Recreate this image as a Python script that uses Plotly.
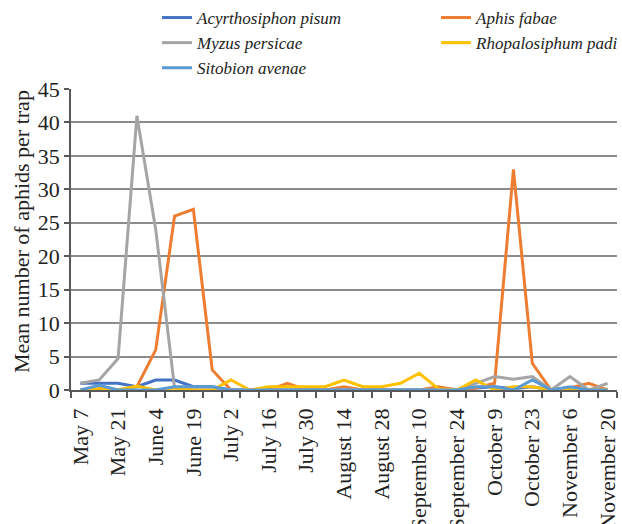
import plotly.graph_objects as go

weeks = ["May 7", "May 14", "May 21", "May 28", "June 4", "June 11", "June 19", "June 26",
         "July 2", "July 9", "July 16", "July 23", "July 30", "August 7", "August 14",
         "August 21", "August 28", "September 3", "September 10", "September 17",
         "September 24", "October 2", "October 9", "October 16", "October 23",
         "October 30", "November 6", "November 13", "November 20"]
tick_labels = weeks[::2]
y_title = "Mean number of aphids per trap"

acyrthosiphon_pisum = [1, 1, 1, 0.5, 1.5, 1.5, 0.5, 0.5, 0, 0, 0, 0, 0, 0, 0, 0, 0, 0, 0, 0,
                       0, 0.3, 0.5, 0.2, 0.5, 0, 0.3, 0, 0]
aphis_fabae = [0, 0, 0, 0.5, 6, 26, 27, 3, 0, 0, 0, 1, 0, 0, 0.5, 0, 0, 0, 0, 0.5,
               0, 0.3, 1, 33, 4, 0, 0.3, 1, 0]
myzus_persicae = [1, 1.5, 4.7, 41, 24, 0.3, 0, 0, 0, 0, 0, 0, 0, 0, 0, 0, 0, 0, 0, 0,
                  0, 1, 2, 1.6, 2, 0, 2, 0, 1]
rhopalosiphum_padi = [0, 0.3, 0, 0.6, 0, 0.3, 0, 0, 1.5, 0, 0.5, 0.5, 0.5, 0.5, 1.5, 0.5,
                      0.5, 1, 2.5, 0.2, 0, 1.5, 0, 0.5, 0.5, 0, 0.3, 0, 0]
sitobion_avenae = [0, 0.7, 0, 0, 0, 0.5, 0.5, 0.5, 0, 0, 0, 0, 0, 0, 0, 0, 0, 0, 0, 0,
                   0, 0.5, 0.5, 0, 1.5, 0, 0.5, 0, 0]

series = [
    ("Acyrthosiphon pisum", acyrthosiphon_pisum, "#4472C4", "legend"),
    ("Aphis fabae", aphis_fabae, "#ED7D31", "legend2"),
    ("Myzus persicae", myzus_persicae, "#A5A5A5", "legend"),
    ("Rhopalosiphum padi", rhopalosiphum_padi, "#FFC000", "legend2"),
    ("Sitobion avenae", sitobion_avenae, "#5B9BD5", "legend"),
]

x = list(range(len(weeks)))
fig = go.Figure()
for name, vals, color, leg in series:
    fig.add_trace(go.Scatter(x=x, y=vals, mode="lines", name=name, legend=leg,
                             line=dict(color=color, width=3)))

font_family = "Liberation Serif"
legend_font = dict(family=font_family, size=17, style="italic", color="#222222")
fig.update_layout(
    width=622, height=524,
    margin=dict(l=71, r=5, t=89, b=134, autoexpand=False),
    plot_bgcolor="white", paper_bgcolor="white",
    font=dict(family=font_family, size=22, color="#222222"),
    showlegend=True,
    legend=dict(orientation="v", xref="container", yref="container",
                x=157 / 622, y=1.0, xanchor="left", yanchor="top",
                font=legend_font, traceorder="normal", bgcolor="rgba(0,0,0,0)"),
    legend2=dict(orientation="v", xref="container", yref="container",
                 x=436 / 622, y=1.0, xanchor="left", yanchor="top",
                 font=legend_font, traceorder="normal", bgcolor="rgba(0,0,0,0)"),
    annotations=[dict(text=y_title, textangle=-90, showarrow=False,
                      xref="paper", yref="paper", x=(22 - 71) / 546, y=0.525,
                      xanchor="center", yanchor="middle",
                      font=dict(family=font_family, size=22, color="#222222"))],
)
fig.update_xaxes(
    range=[-0.5, len(weeks) - 0.5],
    tickmode="array", tickvals=x[::2], ticktext=tick_labels,
    tickangle=-90, ticks="", ticklabelstandoff=8,
    showgrid=False, zeroline=False,
    showline=True, linecolor="#595959", linewidth=1.5,
    automargin=False,
    minor=dict(tickmode="array", tickvals=[i - 0.5 for i in range(len(weeks) + 1)],
               ticks="outside", ticklen=6, tickcolor="#595959", tickwidth=1.5,
               showgrid=False),
)
fig.update_yaxes(
    range=[0, 45], dtick=5, tick0=0,
    showgrid=True, gridcolor="#8C8C8C", gridwidth=1.5,
    zeroline=False,
    showline=True, linecolor="#595959", linewidth=1.5,
    ticks="outside", ticklen=5, tickcolor="#595959", tickwidth=1.5,
    automargin=False,
)
fig.write_html("out.html")
